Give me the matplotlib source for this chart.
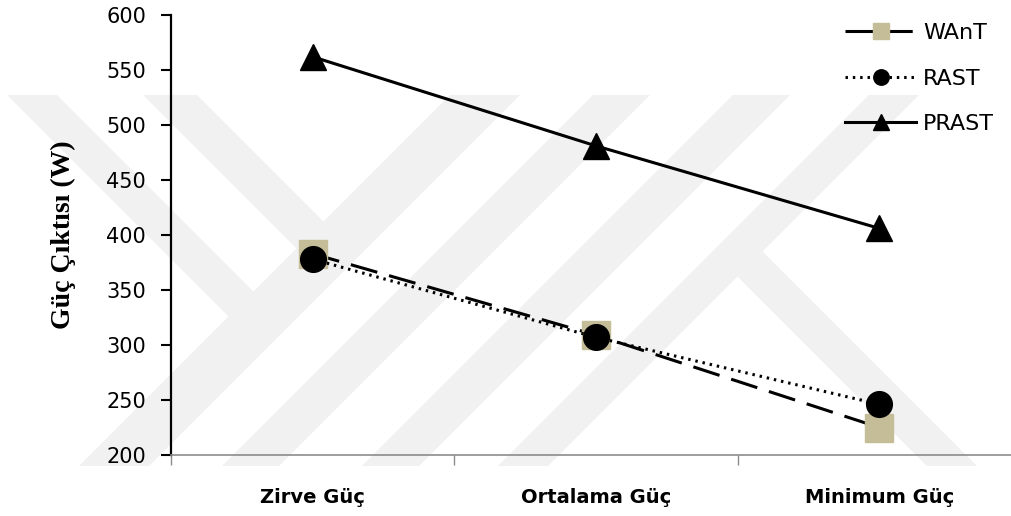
import matplotlib
matplotlib.use('Agg')
import matplotlib.pyplot as plt
from matplotlib.patches import Polygon

categories = ['Zirve Güç', 'Ortalama Güç', 'Minimum Güç']
want = [383, 309, 225]
rast = [378, 307, 246]
prast = [562, 481, 406]

W, H = 1012, 516
fig = plt.figure(figsize=(W / 100, H / 100), dpi=100)

# faint watermark chevrons (pixel coords, y from top)
top, bot = 95, 466
h = bot - top


def px(pts):
    return [(x / W, 1 - y / H) for x, y in pts]


shapes = []
for a, b in [(450, 520), (593, 650), (733, 790), (869, 919)]:
    shapes.append([(a, top), (b, top), (b - h, bot), (a - h, bot)])
shapes.append([(7, top), (57, top), (253.5, 291.5), (263.5, 351.5)])
shapes.append([(143, top), (197, top), (323.5, 221.5), (331.5, 283.5)])
shapes.append([(762.5, 251.5), (977, bot), (927, bot), (737.5, 276.5)])
for s in shapes:
    fig.patches.append(Polygon(px(s), closed=True, transform=fig.transFigure,
                               facecolor='#f1f1f1', edgecolor='none', zorder=-5))

ax = fig.add_axes([171 / W, (H - 455) / H, 850 / W, 440 / H])
ax.patch.set_visible(False)

x = range(len(categories))
ax.plot(x, want, color='black', lw=2.2, ls=(0, (9, 4)), marker='s', ms=19.5,
        mfc='#c4bd97', mec='#c4bd97', label='WAnT', zorder=3)
ax.plot(x, rast, color='black', lw=2.2, ls=(0, (0.8, 1.6)), marker='o', ms=18.5,
        mfc='black', mec='black', label='RAST', zorder=4)
ax.plot(x, prast, color='black', lw=2.2, ls='-', marker='^', ms=18.5,
        mfc='black', mec='black', label='PRAST', zorder=4)

ax.set_xlim(-0.5, 2.5)
ax.set_ylim(200, 600)
ax.set_yticks(range(200, 601, 50))
ax.set_xticks(list(x))
ax.set_xticklabels(categories, fontsize=14, fontweight='bold')
ax.set_xticks([-0.5, 0.5, 1.5, 2.5], minor=True)
ax.tick_params(axis='x', which='major', length=0, pad=24)
ax.tick_params(axis='x', which='minor', length=7, width=1, color='#8c8c8c', direction='out')
ax.tick_params(axis='y', length=7, width=1.5, pad=11, labelsize=15, color='black')

for side in ['top', 'right']:
    ax.spines[side].set_visible(False)
ax.spines['left'].set_linewidth(1.6)
ax.spines['bottom'].set_color('#8c8c8c')
ax.spines['bottom'].set_linewidth(1.2)

ax.set_ylabel('Güç Çıktısı (W)', fontsize=20, fontweight='bold',
              family='Liberation Serif', labelpad=22)

leg = ax.legend(loc='upper left', bbox_to_anchor=(845 / W, 1 - 23 / H),
                bbox_transform=fig.transFigure, frameon=False, fontsize=16,
                markerscale=0.6, handlelength=3.2, handletextpad=0.3,
                labelspacing=1.15, borderpad=0, borderaxespad=0)

fig.savefig('out.png', dpi=100)
